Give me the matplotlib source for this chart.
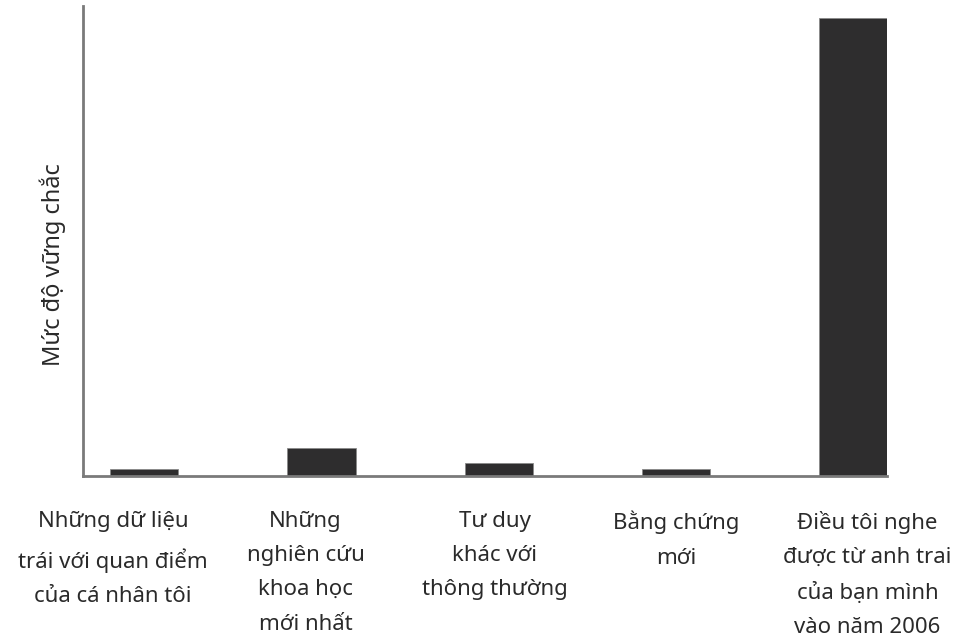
import matplotlib
matplotlib.use("Agg")
import matplotlib.pyplot as plt
import matplotlib.transforms as mtransforms

plt.rcParams['font.family'] = ['Noto Sans', 'DejaVu Sans']

# data
categories = [
    "Những dữ liệu\ntrái với quan điểm\ncủa cá nhân tôi",
    "Những\nnghiên cứu\nkhoa học\nmới nhất",
    "Tư duy\nkhác với\nthông thường",
    "Bằng chứng\nmới",
    "Điều tôi nghe\nđược từ anh trai\ncủa bạn mình\nvào năm 2006",
]
values = [7, 28, 13, 7, 458]
y_label = "Mức độ vững chắc"

fig = plt.figure(figsize=(9.56, 6.41), dpi=100)
ax = fig.add_axes([83 / 956, 165 / 641, (887 - 83) / 956, (476 - 6) / 641])

x = list(range(len(values)))
ax.bar(x, values, width=0.385, color="#2e2d2e", edgecolor="#8a8a8a", linewidth=0.6)
ax.set_xlim(-0.345, 4.19)
ax.set_ylim(0, 470)

for side in ("top", "right"):
    ax.spines[side].set_visible(False)
for side in ("left", "bottom"):
    ax.spines[side].set_color("#7a7a7a")
    ax.spines[side].set_linewidth(2)

ax.set_yticks([])
ax.set_xticks(x)
ax.set_xticklabels(categories, fontsize=16, linespacing=1.83, color="#2a2a2a")
ax.tick_params(axis="x", length=0, pad=25)

# nudge labels slightly as in the original layout
shifts = [-31, -16, -4, 0, 14]
for lbl, dx in zip(ax.get_xticklabels(), shifts):
    lbl.set_transform(lbl.get_transform() + mtransforms.ScaledTranslation(dx / 100, 0, fig.dpi_scale_trans))

ax.set_ylabel(y_label, fontsize=17, color="#2a2a2a", labelpad=12, y=0.449)

fig.savefig("out.png", dpi=100)
